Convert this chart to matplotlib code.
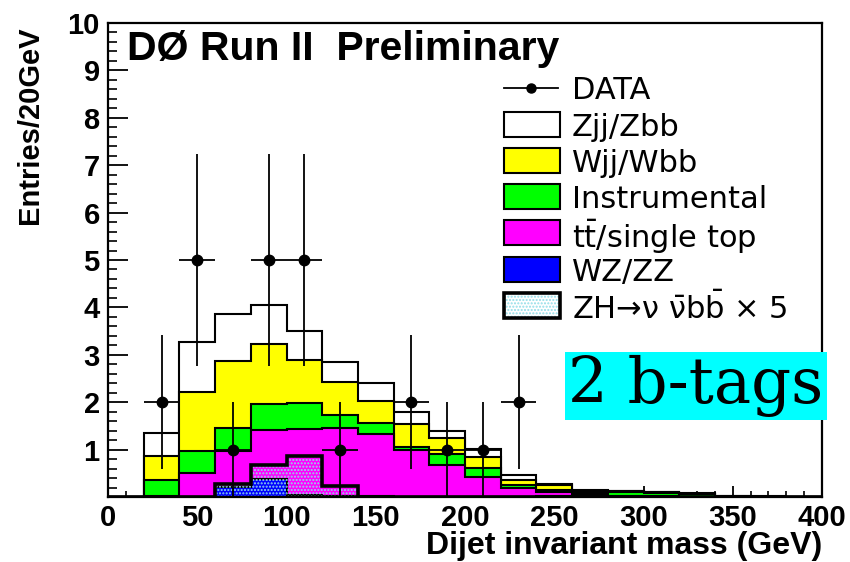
import numpy as np
import matplotlib
matplotlib.use("Agg")
import matplotlib.pyplot as plt
from matplotlib.patches import Rectangle
from matplotlib.lines import Line2D
from matplotlib.ticker import MultipleLocator

plt.rcParams['font.family'] = ['Liberation Sans', 'DejaVu Sans']
plt.rcParams['mathtext.fontset'] = 'dejavusans'
plt.rcParams['hatch.linewidth'] = 1.0

# ---- data (20 GeV bins, 0-400 GeV) ----
bin_edges = list(range(0, 401, 20))
wz_zz   = [0, 0, 0, 0.22, 0.38, 0.05, 0.02, 0.02, 0, 0, 0, 0, 0.02, 0.01, 0, 0, 0, 0, 0, 0]
ttbar   = [0, 0.02, 0.50, 0.75, 1.03, 1.38, 1.43, 1.31, 0.99, 0.67, 0.43, 0.18, 0.08, 0.04, 0.03, 0.02, 0.01, 0.01, 0, 0]
instr   = [0, 0.34, 0.47, 0.48, 0.55, 0.55, 0.27, 0.24, 0.06, 0.24, 0.19, 0.07, 0.05, 0.03, 0.08, 0.07, 0.05, 0, 0.01, 0]
wjj     = [0, 0.51, 1.24, 1.42, 1.27, 0.90, 0.70, 0.46, 0.48, 0.33, 0.23, 0.11, 0.11, 0.04, 0.01, 0.01, 0.01, 0.01, 0, 0.01]
zjj     = [0, 0.47, 1.05, 1.00, 0.82, 0.63, 0.42, 0.38, 0.27, 0.16, 0.16, 0.10, 0.02, 0.03, 0.01, 0.01, 0.01, 0.01, 0.01, 0]
zh_x5   = [0, 0, 0, 0.27, 0.68, 0.86, 0.23, 0, 0, 0, 0, 0, 0, 0, 0, 0, 0, 0, 0, 0]

data_x   = [30, 50, 70, 90, 110, 130, 170, 190, 210, 230]
data_y   = [2, 5, 1, 5, 5, 1, 2, 1, 1, 2]
data_err = [1.41, 2.24, 1.0, 2.24, 2.24, 1.0, 1.41, 1.0, 1.0, 1.41]
data_xerr = [10] * len(data_x)

x_ticks = [0, 50, 100, 150, 200, 250, 300, 350, 400]
x_tick_labels = ['0', '50', '100', '150', '200', '250', '300', '350', '400']
y_ticks = [0, 1, 2, 3, 4, 5, 6, 7, 8, 9, 10]
y_tick_labels = ['', '1', '2', '3', '4', '5', '6', '7', '8', '9', '10']

components = [wz_zz, ttbar, instr, wjj, zjj]
colors = ['#0000ff', '#ff00ff', '#00ff00', '#ffff00', '#ffffff']
legend_labels = ['DATA', 'Zjj/Zbb', 'Wjj/Wbb', 'Instrumental',
                 r'$\mathrm{t\bar{t}}$/single top', 'WZ/ZZ',
                 r'ZH→ν $\mathrm{\bar{\nu}b\bar{b}}$ × 5']

W, H = 850, 562
fig = plt.figure(figsize=(8.5, 5.62), dpi=100)
ax = fig.add_axes([108 / W, 1 - 497 / H, 714 / W, 474 / H])

edges = np.array(bin_edges, dtype=float)
cum = np.cumsum(np.array(components, dtype=float), axis=0)

# stacked histograms, drawn from top of stack down
for i in range(len(components) - 1, -1, -1):
    ax.stairs(cum[i], edges, baseline=0, fill=True, facecolor=colors[i],
              edgecolor='black', linewidth=1.5, zorder=2 + (5 - i) * 0.1)

# signal (x5), dotted fill + thick outline
ax.stairs(zh_x5, edges, baseline=0, fill=True, facecolor='none',
          edgecolor='#8fdde8', hatch='.....', linewidth=0, zorder=3)
ax.stairs(zh_x5, edges, baseline=0, fill=False, color='black',
          linewidth=2.6, zorder=3.1)

ax.errorbar(data_x, data_y, yerr=data_err, xerr=data_xerr, fmt='o',
            color='black', markersize=7.5, elinewidth=1.3, capsize=0,
            zorder=6)

ax.set_xlim(0, 400)
ax.set_ylim(0, 10)
ax.set_xticks(x_ticks)
ax.set_xticklabels(x_tick_labels, fontsize=21, fontweight='bold')
ax.set_yticks(y_ticks)
ax.set_yticklabels(y_tick_labels, fontsize=21, fontweight='bold')
ax.xaxis.set_minor_locator(MultipleLocator(10))
ax.yaxis.set_minor_locator(MultipleLocator(0.2))
ax.tick_params(axis='y', which='major', direction='in', length=14.5, width=1.3, pad=6)
ax.tick_params(axis='y', which='minor', direction='in', length=6.5, width=1.2)
ax.tick_params(axis='x', which='major', direction='in', length=8, width=1.3, pad=5)
ax.tick_params(axis='x', which='minor', direction='in', length=4, width=1.2)
for s in ax.spines.values():
    s.set_linewidth(1.6)
    s.set_zorder(7)

ax.set_xlabel('Dijet invariant mass (GeV)', fontsize=23, fontweight='bold',
              loc='right')
ax.xaxis.set_label_coords(1.0, (497 - 554) / 474)
ax.xaxis.label.set_va('baseline')
ax.set_ylabel('Entries/20GeV', fontsize=21, fontweight='bold', loc='top')
ax.yaxis.set_label_coords((44 - 108) / 714, (497 - 27) / 474)

fig.text(127 / W, 1 - 60 / H, 'DØ Run II  Preliminary', fontsize=29.5,
         fontweight='bold', va='baseline', ha='left')

# 2 b-tags label
ax.text((696 - 108) / 714, (497 - 386) / 474, '2 b-tags', transform=ax.transAxes,
        family='DejaVu Serif', fontsize=45, ha='center', va='center',
        bbox=dict(boxstyle='square,pad=0.05', facecolor='#00ffff', edgecolor='none'),
        zorder=10, clip_on=False)

# ---- legend ----
def fx(px):
    return px / W

def fy(py):
    return 1 - py / H

row_y = [88 + 36.2 * k for k in range(7)]
box_l, box_w, box_h = 504, 56, 25
text_x = 572
# DATA entry
fig.add_artist(Line2D([fx(box_l), fx(box_l + 54)], [fy(row_y[0])] * 2,
                      color='black', lw=1.3, transform=fig.transFigure))
fig.add_artist(Line2D([fx(531)], [fy(row_y[0])], marker='o', markersize=6.5,
                      color='black', transform=fig.transFigure))
legend_fill = ['#ffffff', '#ffff00', '#00ff00', '#ff00ff', '#0000ff']
for k in range(1, 7):
    yc = row_y[k]
    if k <= 5:
        fig.add_artist(Rectangle((fx(box_l), fy(yc + box_h / 2)), box_w / W, box_h / H,
                                 facecolor=legend_fill[k - 1], edgecolor='black',
                                 lw=1.5, transform=fig.transFigure))
    else:
        fig.add_artist(Rectangle((fx(box_l), fy(yc + box_h / 2)), box_w / W, box_h / H,
                                 facecolor='white', edgecolor='#8fdde8', hatch='.....',
                                 lw=0, transform=fig.transFigure))
        fig.add_artist(Rectangle((fx(box_l), fy(yc + box_h / 2)), box_w / W, box_h / H,
                                 facecolor='none', edgecolor='black',
                                 lw=2.6, transform=fig.transFigure))
for k in range(7):
    fig.text(fx(text_x), fy(row_y[k]), legend_labels[k], family='DejaVu Sans',
             fontsize=22, va='center_baseline', ha='left')

fig.savefig('out.png', dpi=100)
